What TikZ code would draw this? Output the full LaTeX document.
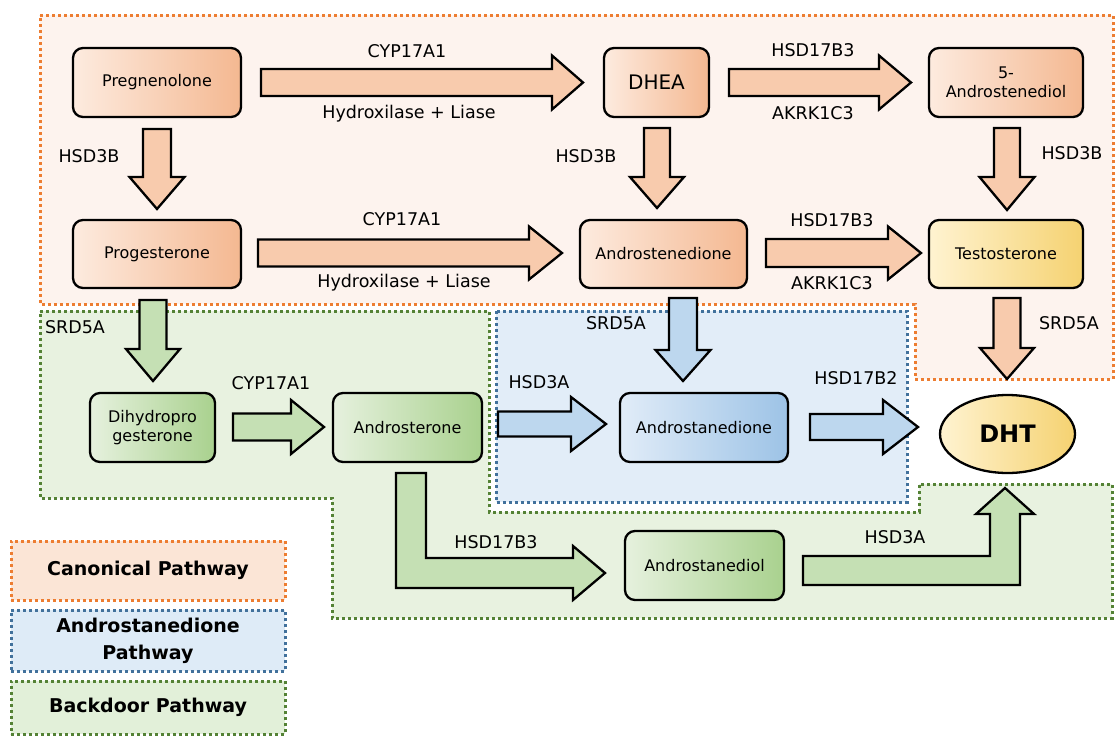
\documentclass[tikz,border=0pt]{standalone}
\usepackage{fontspec}
\setmainfont{DejaVu Sans}
\usetikzlibrary{shapes.geometric}
\definecolor{oL}{HTML}{FDEBDF}
\definecolor{oR}{HTML}{F4B891}
\definecolor{yL}{HTML}{FFF3D1}
\definecolor{yR}{HTML}{F5D271}
\definecolor{gL}{HTML}{E6F1DE}
\definecolor{gR}{HTML}{A9D18E}
\definecolor{bL}{HTML}{E1ECF8}
\definecolor{bR}{HTML}{9DC3E6}
\definecolor{oA}{HTML}{F8CBAD}
\definecolor{gA}{HTML}{C5E0B4}
\definecolor{bA}{HTML}{BDD7EE}
\definecolor{oReg}{HTML}{FDF3EE}
\definecolor{gReg}{HTML}{E8F2E0}
\definecolor{bReg}{HTML}{E2EDF8}
\definecolor{oLeg}{HTML}{FBE5D6}
\definecolor{bLeg}{HTML}{DEEBF7}
\definecolor{gLeg}{HTML}{E2F0D9}
\definecolor{oD}{HTML}{ED7D31}
\definecolor{bD}{HTML}{41719C}
\definecolor{gD}{HTML}{548235}
% horizontal block arrow: style, x start, x tip, y, shaft half, head half, head length
\newcommand\hblock[7]{\draw[#1] (#2,{#4-#5}) -- ({#3-#7},{#4-#5}) -- ({#3-#7},{#4-#6}) -- (#3,#4) -- ({#3-#7},{#4+#6}) -- ({#3-#7},{#4+#5}) -- (#2,{#4+#5}) -- cycle;}
% vertical block arrow: style, x, y start, y tip, shaft half, head half, head length
\newcommand\vblock[7]{\draw[#1] ({#2-#5},#3) -- ({#2+#5},#3) -- ({#2+#5},{#4-#7}) -- ({#2+#6},{#4-#7}) -- (#2,#4) -- ({#2-#6},{#4-#7}) -- ({#2-#5},{#4-#7}) -- cycle;}
\tikzset{
  region/.style={line width=3pt, dash pattern=on 3pt off 3pt},
  box/.style={draw=black, line width=2.3pt, rounded corners=10pt, align=center,
    font=\fontsize{16}{19}\selectfont, inner sep=2pt},
  obox/.style={box, left color=oL, right color=oR},
  ybox/.style={box, left color=yL, right color=yR},
  gbox/.style={box, left color=gL, right color=gR},
  bbox/.style={box, left color=bL, right color=bR},
  lab/.style={font=\fontsize{17.5}{20}\selectfont, inner sep=0pt},
  blk/.style={draw=black, line width=2.3pt, line join=miter},
  oarr/.style={blk, fill=oA},
  garr/.style={blk, fill=gA},
  barr/.style={blk, fill=bA},
  legbox/.style={region, minimum width=274pt, align=center,
    font=\fontsize{19}{27}\selectfont\bfseries}
}
\begin{document}
\begin{tikzpicture}[x=1pt,y=-1pt]
\useasboundingbox (0,0) rectangle (1115,736);
% regions
\path[region, fill=oReg, draw=oD] (40,15) -- (1113,15) -- (1113,379) -- (915,379) -- (915,304) -- (40,304) -- cycle;
\path[region, fill=gReg, draw=gD] (40,311) -- (489,311) -- (489,512) -- (919,512) -- (919,484) -- (1112,484) -- (1112,618) -- (332,618) -- (332,498) -- (40,498) -- cycle;
\path[region, fill=bReg, draw=bD] (496,311) rectangle (907,502);

% nodes
\node[obox, minimum width=168pt, minimum height=69pt] (preg) at (157,82.5) {Pregnenolone};
\node[obox, minimum width=105pt, minimum height=69pt, font=\fontsize{20}{24}\selectfont] (dhea) at (656.5,82.5) {DHEA};
\node[obox, minimum width=154pt, minimum height=69pt] (adiol5) at (1006,82.5) {5-\\Androstenediol};
\node[obox, minimum width=168pt, minimum height=68pt] (prog) at (157,254) {Progesterone};
\node[obox, minimum width=167pt, minimum height=68pt] (adione) at (663.5,254) {Androstenedione};
\node[ybox, minimum width=154pt, minimum height=68pt] (testo) at (1006,254) {Testosterone};
\node[gbox, minimum width=125pt, minimum height=69pt] (dhp) at (152.5,427.5) {Dihydropro\\gesterone};
\node[gbox, minimum width=149pt, minimum height=69pt] (andro) at (407.5,427.5) {Androsterone};
\node[bbox, minimum width=168pt, minimum height=69pt] (astdione) at (704,427.5) {Androstanedione};
\node[gbox, minimum width=159pt, minimum height=69pt] (astdiol) at (704.5,565.5) {Androstanediol};
\node[draw=black, line width=2.3pt, ellipse, left color=yL, right color=yR, minimum width=135pt, minimum height=78pt, inner sep=0pt,
  font=\fontsize{24}{28}\selectfont\bfseries] (dht) at (1007.5,434) {DHT};

% arrows, canonical
\hblock{oarr}{261}{583}{82.5}{13.5}{27}{31}
\hblock{oarr}{729}{911}{82.5}{13.5}{27}{32}
\vblock{oarr}{157}{129}{209}{14}{27.5}{32}
\vblock{oarr}{657}{128}{208}{13}{27}{31}
\vblock{oarr}{1007}{128}{210}{13}{27.5}{33}
\hblock{oarr}{258}{562}{253}{13.5}{26.5}{33}
\hblock{oarr}{766}{921}{253}{14}{26.5}{33}
\vblock{oarr}{1007}{298}{379}{13.5}{27}{31}
% androstanedione pathway
\vblock{barr}{683}{298}{381}{14}{27.5}{31}
\hblock{barr}{498}{606}{424}{12.5}{27}{35}
\hblock{barr}{810}{918}{427}{13}{27}{35}
% backdoor
\vblock{garr}{153}{300}{381}{13.5}{27}{32}
\hblock{garr}{233}{324}{427}{13.5}{27}{33}
\draw[garr] (396,473) -- (426,473) -- (426,558) -- (573,558) -- (573,546) -- (605,573) -- (573,600) -- (573,588) -- (396,588) -- cycle;
\draw[garr] (803,556) -- (990,556) -- (990,514) -- (976,514) -- (1005,488) -- (1034,514) -- (1020,514) -- (1020,585) -- (803,585) -- cycle;

% labels
\node[lab] (l1) at (407,51) {CYP17A1};
\node[lab] (l2) at (409,114) {Hydroxilase + Liase};
\node[lab] (l3) at (89,156) {HSD3B};
\node[lab] (l4) at (402,219) {CYP17A1};
\node[lab] (l5) at (404,283) {Hydroxilase + Liase};
\node[lab] (l6) at (813,50) {HSD17B3};
\node[lab] (l7) at (813,113) {AKRK1C3};
\node[lab] (l8) at (586,156) {HSD3B};
\node[lab] (l9) at (1072,153) {HSD3B};
\node[lab] (l10) at (832,220) {HSD17B3};
\node[lab] (l11) at (832,283) {AKRK1C3};
\node[lab] (l12) at (75,327) {SRD5A};
\node[lab] (l13) at (271,383) {CYP17A1};
\node[lab] (l14) at (616,323) {SRD5A};
\node[lab] (l15) at (539,382) {HSD3A};
\node[lab] (l16) at (856,378) {HSD17B2};
\node[lab] (l17) at (1069,323) {SRD5A};
\node[lab] (l18) at (496,542) {HSD17B3};
\node[lab] (l19) at (895,537) {HSD3A};

% legend
\node[legbox, fill=oLeg, draw=oD, minimum height=59pt] (legC) at (148,570.5) {Canonical Pathway};
\node[legbox, fill=bLeg, draw=bD, minimum height=61pt] (legB) at (148,640.5) {Androstanedione\\Pathway};
\node[legbox, fill=gLeg, draw=gD, minimum height=53pt] (legG) at (148,707.5) {Backdoor Pathway};
\end{tikzpicture}
\end{document}
